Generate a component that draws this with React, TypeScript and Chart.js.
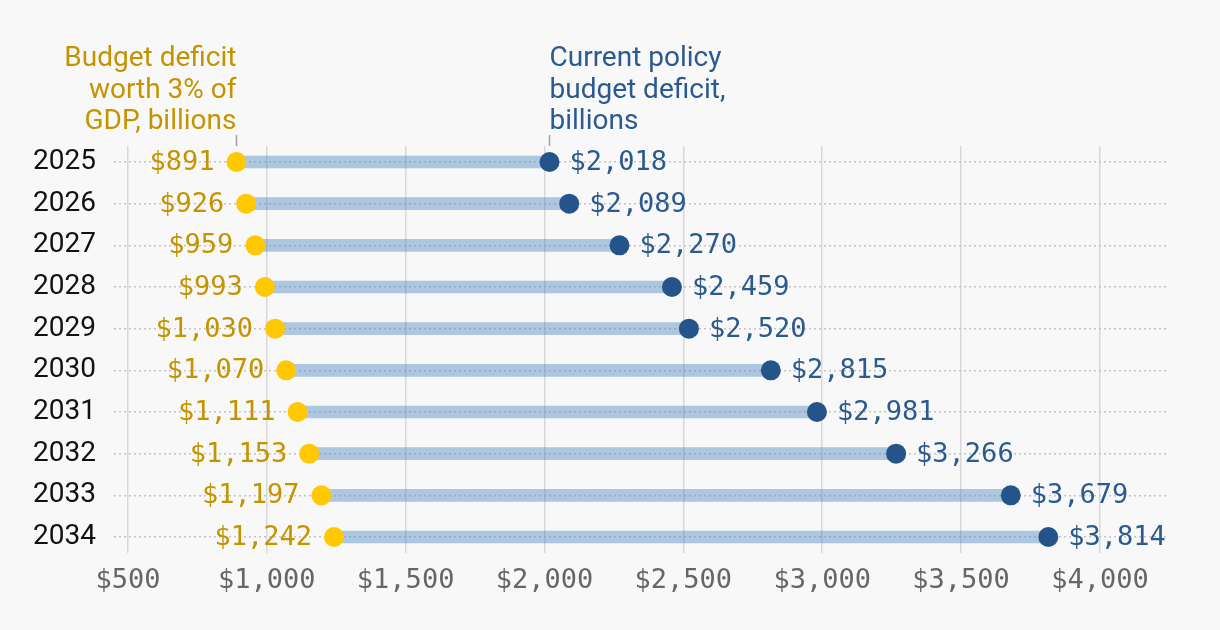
import React, { useEffect, useRef } from "react";
import { Chart, registerables } from "chart.js";

Chart.register(...registerables);

const years = ["2025", "2026", "2027", "2028", "2029", "2030", "2031", "2032", "2033", "2034"];
const gdpDeficit = [891, 926, 959, 993, 1030, 1070, 1111, 1153, 1197, 1242];
const policyDeficit = [2018, 2089, 2270, 2459, 2520, 2815, 2981, 3266, 3679, 3814];
const xTickValues = [500, 1000, 1500, 2000, 2500, 3000, 3500, 4000];
const gdpNote = ["Budget deficit", "worth 3% of", "GDP, billions"];
const policyNote = ["Current policy", "budget deficit,", "billions"];

const GOLD_TEXT = "#c49400";
const GOLD_DOT = "#ffc800";
const BLUE_DOT = "#24548a";
const BLUE_TEXT = "#2a5a8e";
const MONO = "'DejaVu Sans Mono', 'Liberation Mono', monospace";
const SANS = "Roboto, 'Noto Sans', sans-serif";

const fmt = (v: number) => "$" + Math.round(v).toLocaleString("en-US");

const labelPlugin = {
  id: "labelPlugin",
  afterDatasetsDraw(chart: any) {
    const ctx = chart.ctx;
    const xs = chart.scales.x;
    const ys = chart.scales.y;
    ctx.save();
    ctx.font = `27px ${MONO}`;
    ctx.textBaseline = "middle";
    years.forEach((_, i) => {
      const y = ys.getPixelForValue(i) + 1;
      ctx.fillStyle = GOLD_TEXT;
      ctx.textAlign = "right";
      ctx.fillText(fmt(gdpDeficit[i]), xs.getPixelForValue(gdpDeficit[i]) - 22, y);
      ctx.fillStyle = BLUE_TEXT;
      ctx.textAlign = "left";
      ctx.fillText(fmt(policyDeficit[i]), xs.getPixelForValue(policyDeficit[i]) + 20, y);
    });
    // annotations
    const top = chart.chartArea.top;
    const gx = xs.getPixelForValue(gdpDeficit[0]);
    const px = xs.getPixelForValue(policyDeficit[0]);
    ctx.strokeStyle = "#a0a0a0";
    ctx.lineWidth = 1.5;
    ctx.beginPath();
    ctx.moveTo(gx, top - 11);
    ctx.lineTo(gx, top);
    ctx.moveTo(px, top - 11);
    ctx.lineTo(px, top);
    ctx.stroke();
    ctx.font = `28px ${SANS}`;
    const lh = 31.5;
    const base = top - 24;
    ctx.fillStyle = GOLD_TEXT;
    ctx.textAlign = "right";
    gdpNote.forEach((t, k) => {
      ctx.fillText(t, gx, base - (gdpNote.length - 1 - k) * lh);
    });
    ctx.fillStyle = BLUE_TEXT;
    ctx.textAlign = "left";
    policyNote.forEach((t, k) => {
      ctx.fillText(t, px, base - (policyNote.length - 1 - k) * lh);
    });
    ctx.restore();
  },
};

export default function App() {
  const ref = useRef<HTMLCanvasElement | null>(null);
  useEffect(() => {
    document.body.style.margin = "0";
    document.body.style.background = "#f8f8f8";
    const canvas = ref.current!;
    const chart = new Chart(canvas, {
      type: "bar",
      data: {
        datasets: [
          {
            type: "scatter",
            data: years.map((_, i) => ({ x: gdpDeficit[i], y: i })),
            backgroundColor: GOLD_DOT,
            borderWidth: 0,
            pointRadius: 10,
            order: 1,
          } as any,
          {
            type: "scatter",
            data: years.map((_, i) => ({ x: policyDeficit[i], y: i })),
            backgroundColor: BLUE_DOT,
            borderWidth: 0,
            pointRadius: 10,
            order: 1,
          } as any,
          {
            type: "bar",
            indexAxis: "y",
            data: years.map((_, i) => ({ x: [gdpDeficit[i], policyDeficit[i]], y: i })),
            backgroundColor: "rgba(70,130,190,0.42)",
            borderWidth: 0,
            barThickness: 12,
            order: 2,
          } as any,
        ],
      },
      options: {
        responsive: false,
        animation: false,
        devicePixelRatio: 1,
        layout: { padding: { top: 146, right: 52, left: 0, bottom: 0 } },
        plugins: { legend: { display: false }, tooltip: { enabled: false } },
        scales: {
          x: {
            type: "linear",
            position: "bottom",
            offset: false,
            min: 450,
            max: 4245,
            afterBuildTicks: (axis: any) => {
              axis.ticks = xTickValues.map((v) => ({ value: v }));
            },
            afterFit: (axis: any) => {
              axis.height = 77;
            },
            grid: { offset: false, color: "#d8d8d8", lineWidth: 1.5, drawTicks: false },
            border: { display: false },
            ticks: {
              autoSkip: false,
              maxRotation: 0,
              padding: 12,
              color: "#666666",
              font: { family: MONO, size: 27 },
              callback: (v: any) => fmt(Number(v)),
            },
          },
          y: {
            type: "linear",
            reverse: true,
            offset: false,
            min: -0.384,
            max: 9.384,
            afterBuildTicks: (axis: any) => {
              axis.ticks = years.map((_, i) => ({ value: i }));
            },
            afterFit: (axis: any) => {
              axis.width = 114;
            },
            grid: { offset: false, color: "#c4c4c4", lineWidth: 1.5, drawTicks: false },
            border: { display: false, dash: [2, 3] },
            ticks: {
              autoSkip: false,
              padding: 18,
              color: "#111111",
              font: { family: SANS, size: 28 },
              callback: (v: any) => years[Math.round(Number(v))] ?? "",
            },
          },
        },
      } as any,
      plugins: [labelPlugin],
    });
    return () => chart.destroy();
  }, []);
  return (
    <div style={{ position: "fixed", left: 0, top: 0, width: 1220, height: 630, background: "#f8f8f8" }}>
      <canvas ref={ref} width={1220} height={630} style={{ display: "block" }} />
    </div>
  );
}
